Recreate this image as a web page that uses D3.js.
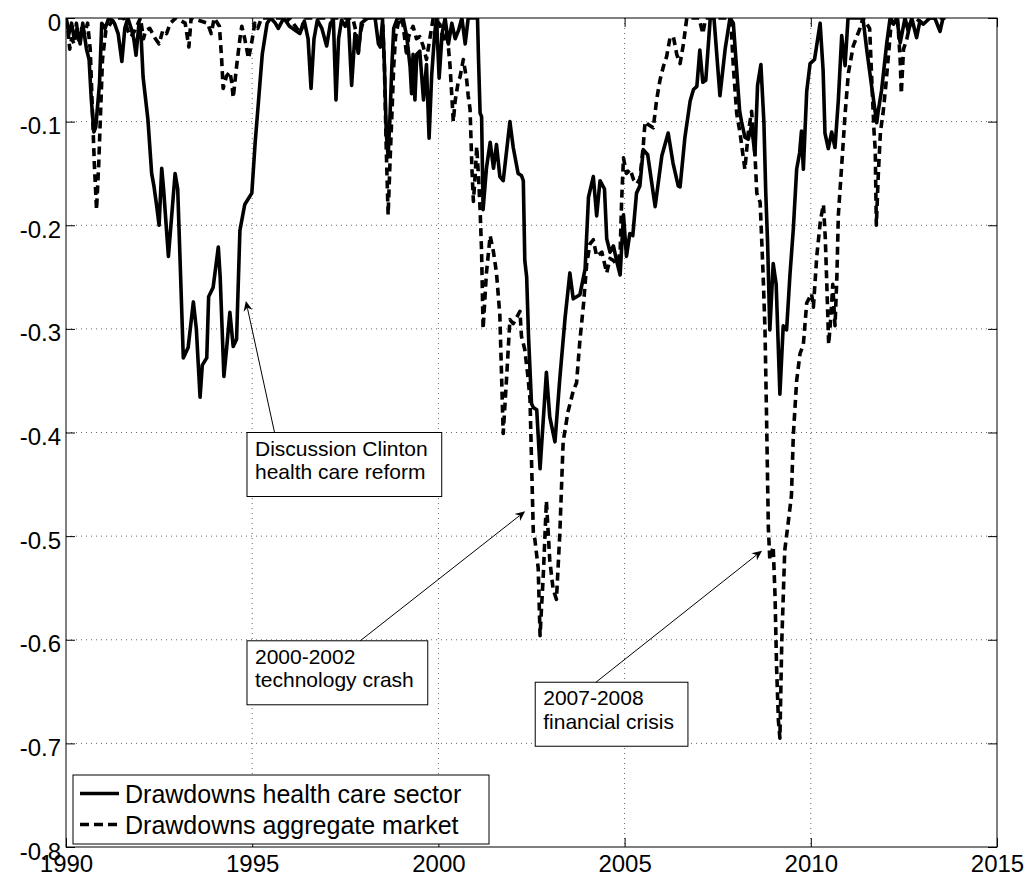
<!DOCTYPE html>
<html><head><meta charset="utf-8">
<script src="https://cdn.jsdelivr.net/npm/d3@7"></script>
<style>
body{margin:0;background:#fff}
svg{display:block}
text{font-family:"Liberation Sans",Arial,Helvetica,sans-serif;fill:#000}
</style>
</head><body>
<svg id="c" width="1032" height="885"></svg>
<script>
// ---------- data ----------
const hcYears = [1990.00,1990.08,1990.15,1990.22,1990.30,1990.38,1990.45,1990.55,1990.62,1990.68,1990.75,1990.80,1990.90,1990.96,
1991.05,1991.15,1991.30,1991.40,1991.50,1991.58,1991.66,1991.75,1991.82,1991.88,1991.96,
1992.02,1992.07,1992.20,1992.30,1992.36,1992.43,1992.50,1992.57,1992.62,1992.75,1992.93,
1993.00,1993.15,1993.28,1993.42,1993.50,1993.60,1993.66,1993.78,1993.83,1993.95,
1994.09,1994.14,1994.24,1994.31,1994.40,1994.49,1994.58,1994.67,1994.80,1994.99,
1995.08,1995.17,1995.27,1995.40,1995.50,1995.62,1995.70,1995.85,
1996.00,1996.28,1996.40,1996.50,1996.58,1996.66,1996.75,1996.87,
1997.00,1997.10,1997.18,1997.25,1997.32,1997.40,1997.50,1997.58,1997.67,1997.76,1997.85,1997.93,
1998.10,1998.30,1998.39,1998.44,1998.50,1998.55,1998.60,1998.65,1998.70,1998.75,1998.80,1998.90,
1999.05,1999.15,1999.24,1999.28,1999.32,1999.37,1999.42,1999.50,1999.60,1999.68,1999.75,1999.82,1999.90,1999.95,
2000.02,2000.10,2000.18,2000.27,2000.36,2000.45,2000.54,2000.63,2000.72,2000.80,
2001.05,2001.08,2001.12,2001.16,2001.20,2001.29,2001.39,2001.48,2001.56,2001.65,2001.74,2001.92,
2002.01,2002.14,2002.23,2002.28,2002.32,2002.37,2002.42,2002.50,2002.55,2002.64,2002.73,2002.90,2002.99,
2003.13,2003.26,2003.40,2003.53,2003.62,2003.80,2003.94,
2004.03,2004.16,2004.25,2004.34,2004.46,2004.52,2004.61,2004.70,2004.79,2004.88,2004.97,
2005.05,2005.14,2005.22,2005.32,2005.41,2005.50,2005.62,2005.82,
2006.00,2006.17,2006.30,2006.44,2006.49,2006.62,2006.76,2006.85,2006.94,
2007.02,2007.10,2007.18,2007.30,2007.40,2007.56,2007.70,2007.83,2007.92,
2008.01,2008.09,2008.14,2008.23,2008.32,2008.41,2008.50,2008.57,2008.66,2008.74,2008.79,2008.84,2008.90,2008.99,
2009.07,2009.17,2009.26,2009.35,2009.44,2009.53,2009.62,2009.70,2009.75,2009.80,2009.89,2009.98,
2010.10,2010.25,2010.33,2010.38,2010.47,2010.56,2010.65,2010.74,2010.83,2010.92,
2011.00,2011.40,2011.50,2011.63,2011.77,2011.81,2011.90,
2012.04,2012.13,2012.22,2012.31,2012.40,2012.53,2012.62,2012.71,2012.84,2012.93,
2013.02,2013.20,2013.33,2013.47,2013.55,2013.62];
const hcValues = [0,-0.015,-0.005,-0.02,-0.01,-0.025,-0.005,-0.03,-0.04,-0.079,-0.11,-0.105,-0.063,-0.005,
-0.01,0,-0.005,-0.015,-0.042,-0.01,0,-0.01,-0.02,-0.036,-0.005,
-0.02,-0.057,-0.098,-0.15,-0.162,-0.18,-0.2,-0.145,-0.165,-0.23,-0.15,
-0.165,-0.328,-0.318,-0.274,-0.3,-0.366,-0.335,-0.328,-0.269,-0.26,
-0.221,-0.25,-0.346,-0.32,-0.284,-0.317,-0.31,-0.205,-0.18,-0.169,
-0.12,-0.08,-0.035,-0.005,0,-0.005,-0.01,0,
-0.008,-0.015,-0.003,-0.02,-0.068,-0.02,-0.002,-0.01,
-0.027,-0.005,-0.002,-0.079,-0.02,-0.002,-0.008,0,-0.065,-0.015,-0.034,-0.005,
0,0,-0.025,-0.028,-0.002,-0.045,-0.111,-0.134,-0.095,-0.047,-0.01,0,
0,-0.018,-0.047,-0.073,-0.035,-0.079,-0.035,-0.032,-0.079,-0.045,-0.116,-0.055,-0.015,0,
-0.058,-0.015,0,-0.025,-0.005,-0.02,-0.012,0,-0.025,0,
0,-0.043,-0.092,-0.095,-0.185,-0.145,-0.12,-0.145,-0.122,-0.153,-0.157,-0.1,
-0.125,-0.15,-0.152,-0.157,-0.234,-0.25,-0.307,-0.372,-0.376,-0.378,-0.435,-0.342,-0.385,
-0.409,-0.348,-0.29,-0.246,-0.271,-0.267,-0.242,
-0.173,-0.153,-0.191,-0.157,-0.165,-0.213,-0.226,-0.22,-0.235,-0.248,-0.19,
-0.23,-0.208,-0.21,-0.169,-0.162,-0.127,-0.132,-0.182,
-0.133,-0.111,-0.14,-0.162,-0.163,-0.115,-0.08,-0.069,-0.066,
-0.031,-0.062,-0.06,0,0,-0.075,-0.03,0,-0.005,
-0.05,-0.09,-0.1,-0.115,-0.117,-0.104,-0.132,-0.065,-0.045,-0.1,-0.168,-0.217,-0.301,-0.237,
-0.257,-0.363,-0.297,-0.301,-0.248,-0.204,-0.146,-0.13,-0.109,-0.146,-0.071,-0.044,
-0.04,-0.005,-0.05,-0.111,-0.126,-0.11,-0.125,-0.079,-0.017,-0.046,
0,0,-0.03,-0.065,-0.101,-0.09,-0.07,
-0.024,0,-0.006,0,-0.024,0,-0.013,0,-0.019,-0.003,
-0.006,0,0,-0.013,0,0];

const mktYears = [1990.00,1990.05,1990.10,1990.15,1990.22,1990.28,1990.35,1990.42,1990.50,1990.58,1990.65,1990.70,1990.76,1990.82,1990.88,1990.93,1990.98,
1991.07,1991.20,1991.30,1991.55,1991.66,1991.75,1991.85,
1992.00,1992.08,1992.14,1992.25,1992.40,1992.50,1992.60,1992.70,1992.80,1992.95,
1993.20,1993.30,1993.36,1993.80,1993.90,1993.98,
1994.12,1994.18,1994.22,1994.31,1994.40,1994.45,1994.49,1994.58,1994.67,1994.72,1994.80,1994.90,1994.98,
1995.07,1995.15,1995.25,1995.80,1995.90,1996.00,1996.20,1996.30,1996.40,
1997.20,1997.70,1997.78,1997.85,1997.90,1998.00,
1998.50,1998.55,1998.60,1998.65,1998.70,1998.76,1998.80,1998.85,1998.95,
1999.05,1999.15,1999.20,1999.32,1999.41,1999.50,1999.59,1999.68,1999.77,1999.86,
2000.04,2000.14,2000.23,2000.31,2000.36,2000.40,2000.45,2000.54,2000.58,2000.67,2000.76,2000.80,2000.85,2000.90,2000.94,2000.99,
2001.03,2001.08,2001.12,2001.16,2001.20,2001.29,2001.39,2001.48,2001.56,2001.65,2001.74,2001.83,2001.92,
2002.01,2002.19,2002.23,2002.32,2002.41,2002.46,2002.55,2002.59,2002.68,2002.73,2002.82,2002.90,2002.99,
2003.08,2003.17,2003.26,2003.35,2003.48,2003.62,2003.71,2003.80,2003.90,2003.98,
2004.07,2004.16,2004.25,2004.39,2004.52,2004.61,2004.70,2004.79,2004.88,2004.92,2004.97,
2005.05,2005.15,2005.24,2005.33,2005.41,2005.50,2005.55,2005.64,2005.77,2005.86,2005.95,
2006.04,2006.13,2006.22,2006.31,2006.40,2006.49,2006.58,2006.67,
2007.00,2007.10,2007.18,2007.85,2007.92,
2008.01,2008.10,2008.23,2008.32,2008.41,2008.50,2008.55,2008.64,2008.72,2008.77,2008.81,2008.86,2008.90,2008.99,
2009.04,2009.08,2009.13,2009.17,2009.22,2009.30,2009.39,2009.48,2009.53,2009.62,2009.71,2009.80,2009.89,
2010.02,2010.07,2010.16,2010.26,2010.34,2010.39,2010.43,2010.48,2010.54,2010.59,2010.65,2010.70,2010.74,2010.83,2010.92,
2011.01,2011.14,2011.32,2011.40,2011.58,2011.66,2011.70,2011.73,2011.76,2011.81,2011.87,2011.94,
2012.02,2012.09,2012.17,2012.33,2012.40,2012.43,2012.49,2012.58,2012.67,2012.80,
2013.00,2013.15,2013.60];
const mktValues = [0,-0.01,-0.03,-0.02,-0.025,-0.005,-0.025,-0.01,-0.015,-0.005,-0.03,-0.08,-0.14,-0.185,-0.14,-0.09,-0.04,
-0.012,-0.005,0,0,-0.012,-0.018,-0.012,
0,-0.02,-0.012,-0.01,-0.02,-0.025,-0.012,-0.015,-0.005,0,
-0.005,-0.028,0,-0.005,-0.015,0,
-0.008,-0.04,-0.068,-0.056,-0.052,-0.062,-0.077,-0.047,-0.02,-0.008,-0.02,-0.039,-0.025,
-0.005,-0.01,0,0,-0.005,0,-0.01,-0.014,0,
0,0,-0.012,-0.033,-0.015,0,
0,-0.047,-0.127,-0.19,-0.14,-0.085,-0.047,-0.018,0,
-0.006,-0.037,-0.018,-0.008,-0.02,-0.018,-0.027,-0.04,-0.02,0,
-0.006,-0.024,-0.013,-0.045,-0.075,-0.1,-0.08,-0.06,-0.057,-0.04,-0.06,-0.075,-0.088,-0.145,-0.177,-0.15,
-0.124,-0.155,-0.185,-0.226,-0.30,-0.246,-0.21,-0.226,-0.246,-0.287,-0.401,-0.348,-0.291,
-0.295,-0.283,-0.307,-0.32,-0.348,-0.368,-0.498,-0.503,-0.531,-0.596,-0.535,-0.466,-0.523,
-0.551,-0.561,-0.498,-0.409,-0.38,-0.36,-0.352,-0.311,-0.275,-0.238,
-0.218,-0.214,-0.23,-0.226,-0.246,-0.232,-0.234,-0.238,-0.226,-0.177,-0.135,
-0.15,-0.146,-0.156,-0.16,-0.155,-0.124,-0.1,-0.103,-0.106,-0.079,-0.06,
-0.047,-0.037,-0.019,-0.018,-0.035,-0.044,-0.025,0,
0,-0.015,0,0,-0.047,
-0.092,-0.111,-0.146,-0.111,-0.09,-0.131,-0.169,-0.178,-0.248,-0.301,-0.381,-0.492,-0.523,-0.51,
-0.558,-0.625,-0.678,-0.695,-0.603,-0.514,-0.488,-0.461,-0.403,-0.35,-0.324,-0.315,-0.275,
-0.266,-0.279,-0.23,-0.195,-0.18,-0.213,-0.257,-0.315,-0.288,-0.257,-0.297,-0.25,-0.19,-0.142,-0.093,
-0.053,-0.027,-0.01,0,-0.01,-0.079,-0.111,-0.127,-0.2,-0.153,-0.11,-0.092,
-0.063,-0.034,0,0,-0.04,-0.073,-0.03,-0.02,-0.005,0,
-0.005,0,0];

const seriesNames = ["Drawdowns health care sector","Drawdowns aggregate market"];
const xTicks = [1990,1995,2000,2005,2010,2015];
const xTickLabels = ["1990","1995","2000","2005","2010","2015"];
const yTicks = [0,-0.1,-0.2,-0.3,-0.4,-0.5,-0.6,-0.7,-0.8];
const yTickLabels = ["0","-0.1","-0.2","-0.3","-0.4","-0.5","-0.6","-0.7","-0.8"];
// annotation: text lines, arrow tip (year,value), arrow tail (year,value), box top-left (year,value)
const annoText = [["Discussion Clinton","health care reform"],["2000-2002","technology crash"],["2007-2008","financial crisis"]];
const annoTip  = [[1994.83,-0.273],[2002.33,-0.476],[2008.69,-0.514]];
const annoTail = [[1995.60,-0.400],[1997.90,-0.601],[2004.23,-0.641]];
const annoBox  = [[1994.86,-0.400],[1994.86,-0.601],[2002.60,-0.641]];

// ---------- drawing ----------
const L=66,R=997,T=18,B=847;
const x = d3.scaleLinear().domain([1990,2015]).range([L,R]);
const y = d3.scaleLinear().domain([-0.8,0]).range([B,T]);
const svg = d3.select("#c");
svg.append("rect").attr("width",1032).attr("height",885).attr("fill","#fff");
svg.append("defs").append("clipPath").attr("id","clip")
  .append("rect").attr("x",L).attr("y",T).attr("width",R-L).attr("height",B-T);

// grid
const grid = svg.append("g").attr("stroke","#666").attr("stroke-width",1).attr("stroke-dasharray","1,4");
xTicks.filter(t=>t>1990&&t<2015).forEach(t=>{
  grid.append("line").attr("x1",x(t)).attr("x2",x(t)).attr("y1",T).attr("y2",B);
});
yTicks.filter(t=>t<0&&t>-0.8).forEach(t=>{
  grid.append("line").attr("x1",L).attr("x2",R).attr("y1",y(t)).attr("y2",y(t));
});

// lines
const lw = 3.6;
const line = d3.line().x(d=>x(d[0])).y(d=>y(d[1]));
const plot = svg.append("g").attr("clip-path","url(#clip)");
plot.append("path").datum(d3.zip(mktYears,mktValues)).attr("d",line)
  .attr("fill","none").attr("stroke","#000").attr("stroke-width",lw)
  .attr("stroke-dasharray","8,5").attr("stroke-linejoin","round");
plot.append("path").datum(d3.zip(hcYears,hcValues)).attr("d",line)
  .attr("fill","none").attr("stroke","#000").attr("stroke-width",lw)
  .attr("stroke-linejoin","round");

// axes
const fs = 24;
const xAxis = d3.axisBottom(x).tickValues(xTicks).tickFormat((d,i)=>xTickLabels[i]).tickSizeInner(-9).tickSizeOuter(0).tickPadding(8);
const gx = svg.append("g").attr("transform",`translate(0,${B})`).call(xAxis);
const yAxis = d3.axisLeft(y).tickValues(yTicks).tickFormat((d,i)=>yTickLabels[i]).tickSizeInner(-9).tickSizeOuter(0).tickPadding(5);
const gy = svg.append("g").attr("transform",`translate(${L},0)`).call(yAxis);
const gxt = svg.append("g").attr("transform",`translate(0,${T})`).call(d3.axisTop(x).tickValues(xTicks).tickFormat("").tickSizeInner(-9).tickSizeOuter(0));
const gyr = svg.append("g").attr("transform",`translate(${R},0)`).call(d3.axisRight(y).tickValues(yTicks).tickFormat("").tickSizeInner(-9).tickSizeOuter(0));
[gx,gy,gxt,gyr].forEach(g=>{
  g.select(".domain").remove();
  g.selectAll("line").attr("stroke","#000");
  g.selectAll("text").attr("font-size",fs).attr("font-family",null).attr("fill","#000");
});
gy.selectAll("text").attr("dy","0.5em");
svg.append("rect").attr("x",L).attr("y",T).attr("width",R-L).attr("height",B-T)
  .attr("fill","none").attr("stroke","#000").attr("stroke-width",1);

// annotations
const ag = svg.append("g");
annoText.forEach((lines,i)=>{
  const bx = x(annoBox[i][0]), by = y(annoBox[i][1]);
  const tx = x(annoTail[i][0]), ty = y(annoTail[i][1]);
  const px = x(annoTip[i][0]), py = y(annoTip[i][1]);
  const rect = ag.append("rect").attr("x",bx).attr("y",by).attr("height",64)
    .attr("fill","#fff").attr("stroke","#000").attr("stroke-width",1);
  let maxW = 0;
  lines.forEach((s,j)=>{
    const t = ag.append("text").attr("x",bx+8).attr("y",by+23+j*23.5).attr("font-size",21).text(s);
    maxW = Math.max(maxW,t.node().getComputedTextLength());
  });
  rect.attr("width",maxW+22);
  const ang = Math.atan2(py-ty,px-tx);
  const hl = 10;
  const bx2 = px - hl*0.75*Math.cos(ang), by2 = py - hl*0.75*Math.sin(ang);
  ag.append("line").attr("x1",tx).attr("y1",ty).attr("x2",bx2).attr("y2",by2)
    .attr("stroke","#000").attr("stroke-width",1);
  const p = (dx,dy)=>[px + dx*Math.cos(ang) - dy*Math.sin(ang), py + dx*Math.sin(ang) + dy*Math.cos(ang)];
  const pts = [p(0,0),p(-hl,-4.5),p(-hl*0.7,0),p(-hl,4.5)];
  ag.append("path").attr("d","M"+pts.map(q=>q.join(",")).join("L")+"Z").attr("fill","#000");
});

// legend
const lg = svg.append("g");
lg.append("rect").attr("x",73).attr("y",775).attr("width",416).attr("height",69)
  .attr("fill","#fff").attr("stroke","#000").attr("stroke-width",1);
seriesNames.forEach((n,i)=>{
  const yy = 793.5 + i*31;
  lg.append("line").attr("x1",80).attr("x2",119).attr("y1",yy).attr("y2",yy)
    .attr("stroke","#000").attr("stroke-width",lw).attr("stroke-dasharray",i===1?"9,5":null);
  lg.append("text").attr("x",125).attr("y",yy+9.5).attr("font-size",25).text(n);
});
</script>
</body></html>
